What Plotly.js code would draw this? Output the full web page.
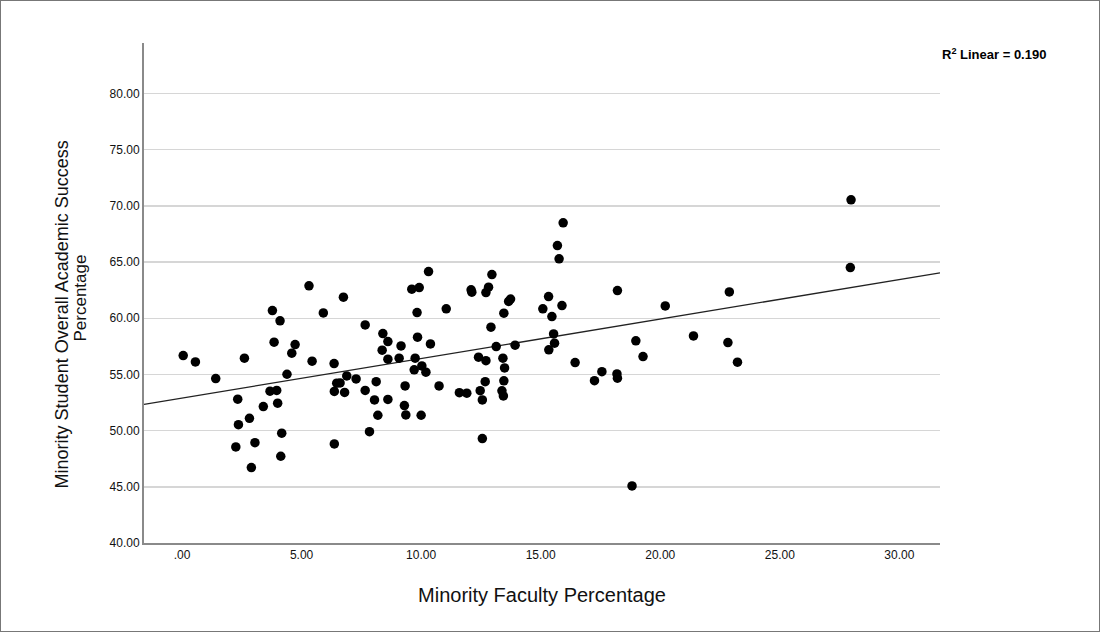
<!DOCTYPE html>
<html><head><meta charset="utf-8">
<script src="https://cdn.plot.ly/plotly-3.0.1.min.js"></script>
<style>
html,body{margin:0;padding:0;background:#fff;}
#chart{position:absolute;left:0;top:0;width:1100px;height:632px;}
#frame{position:absolute;left:0;top:0;width:1098px;height:630px;border:1px solid #777;pointer-events:none;}
</style>
</head><body>
<div id="chart"></div><div id="frame"></div>
<script>
const facultyPct = [
  0.05,0.56,1.41,2.33,2.36,2.25,2.61,2.82,3.05,2.90,3.40,3.68,3.96,3.78,4.10,3.85,4.00,4.17,4.13,4.39,
  4.59,4.73,5.31,5.44,5.91,6.36,6.75,6.37,6.37,6.47,6.61,6.80,6.89,
  7.28,7.66,7.66,8.12,8.05,8.61,7.84,8.19,8.40,8.61,8.37,8.61,9.08,9.16,9.33,9.30,9.36,9.61,9.92,9.83,
  9.85,9.75,9.71,10.03,10.20,10.00,10.31,10.39,10.75,11.05,
  11.60,11.91,12.09,12.12,12.40,12.47,12.56,12.56,12.71,12.82,12.71,12.68,12.92,12.96,13.14,13.38,13.44,
  13.42,13.49,13.46,13.46,13.66,13.74,13.93,
  15.09,15.33,15.47,15.54,15.58,15.34,15.70,15.77,15.94,15.89,16.44,17.25,17.56,18.19,18.21,18.21,18.82,
  18.98,19.28,20.21,21.39,22.89,22.83,23.23,27.98,27.95
];
const studentSuccessPct = [
  56.68,56.12,54.63,52.80,50.53,48.55,56.45,51.10,48.93,46.71,52.14,53.51,53.58,60.69,59.77,57.87,52.44,49.77,47.72,55.02,
  56.89,57.66,62.89,56.18,60.48,55.97,61.88,48.82,53.49,54.22,54.25,53.40,54.87,
  54.60,59.41,53.58,54.36,52.73,52.78,49.91,51.37,58.64,57.93,57.16,56.36,56.45,57.54,53.98,52.23,51.40,62.59,62.73,60.51,
  58.32,56.45,55.41,55.76,55.20,51.37,64.16,57.72,53.98,60.84,
  53.38,53.33,62.53,62.32,56.54,53.56,52.73,49.29,62.29,62.77,56.23,54.36,59.21,63.89,57.48,53.54,53.09,
  56.45,55.58,54.43,60.45,61.50,61.71,57.61,
  60.84,61.93,60.15,58.61,57.78,57.19,66.47,65.29,68.50,61.13,56.06,54.45,55.25,55.05,54.67,62.47,45.08,
  57.99,56.59,61.10,58.43,62.35,57.84,56.09,70.54,64.51
];
const xTickVals = [0,5,10,15,20,25,30];
const xTickText = ['.00','5.00','10.00','15.00','20.00','25.00','30.00'];
const yTickVals = [40,45,50,55,60,65,70,75,80];
const yTickText = ['40.00','45.00','50.00','55.00','60.00','65.00','70.00','75.00','80.00'];
const xTitle = 'Minority Faculty Percentage';
const yTitleLines = ['Minority Student Overall Academic Success', 'Percentage'];
const r2Label = 'R<sup>2</sup> Linear = 0.190';

const xRange = [-1.59, 31.7];
const yRange = [40, 84.5];

// ordinary least squares fit of the plotted points
const n = facultyPct.length;
const mx = facultyPct.reduce((a,b)=>a+b,0)/n;
const my = studentSuccessPct.reduce((a,b)=>a+b,0)/n;
let sxy = 0, sxx = 0;
for (let i=0;i<n;i++){ sxy += (facultyPct[i]-mx)*(studentSuccessPct[i]-my); sxx += (facultyPct[i]-mx)**2; }
const slope = sxy/sxx, intercept = my - slope*mx;
const fitX = [xRange[0], xRange[1]];
const fitY = fitX.map(v => intercept + slope*v);

const font = 'Liberation Sans, Arial, sans-serif';
Plotly.newPlot('chart', [
  {x: fitX, y: fitY, type:'scatter', mode:'lines', line:{color:'#222', width:1.3}, hoverinfo:'skip', showlegend:false},
  {x: facultyPct, y: studentSuccessPct, type:'scatter', mode:'markers',
   marker:{color:'#000', size:9.5, line:{width:0}}, showlegend:false}
], {
  width:1100, height:632,
  margin:{l:144, r:160, t:43, b:89, pad:0},
  paper_bgcolor:'#fff', plot_bgcolor:'#fff',
  font:{family:font, color:'#111', size:12},
  xaxis:{range:xRange, tickvals:xTickVals, ticktext:xTickText, showgrid:false, zeroline:false,
         showline:true, linecolor:'#8a8a8a', linewidth:2, ticks:'', ticklen:0,
         tickfont:{family:font, size:12, color:'#111'},
         title:{text:xTitle, font:{family:font, size:20, color:'#111'}, standoff:27}},
  yaxis:{range:yRange, tickvals:yTickVals, ticktext:yTickText, showgrid:true, gridcolor:'#d6d6d6', gridwidth:1.5,
         zeroline:false, showline:true, linecolor:'#8a8a8a', linewidth:2, ticks:'', ticklen:0,
         tickfont:{family:font, size:12, color:'#111'}},
  annotations:[
    {xref:'paper', yref:'paper', x:1.0, y:0.978, xanchor:'left', yanchor:'middle',
     text:r2Label, showarrow:false, font:{family:font, size:13, color:'#000', weight:'bold'}},
    {xref:'paper', yref:'paper', x:-0.1025, y:0.458, xanchor:'center', yanchor:'middle', textangle:-90,
     text:yTitleLines[0], showarrow:false, font:{family:font, size:18, color:'#111'}},
    {xref:'paper', yref:'paper', x:-0.081, y:0.49, xanchor:'center', yanchor:'middle', textangle:-90,
     text:yTitleLines[1], showarrow:false, font:{family:font, size:17, color:'#111'}}
  ]
}, {displayModeBar:false, staticPlot:true});
</script>
</body></html>
